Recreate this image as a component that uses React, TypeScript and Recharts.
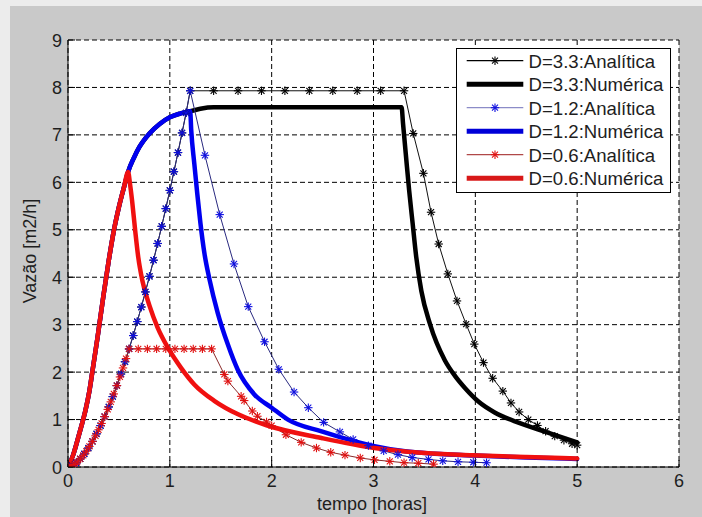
import React from 'react';
import { LineChart, Line, XAxis, YAxis, CartesianGrid, Legend, Label } from 'recharts';

const FONT = '"Liberation Sans", Arial, Helvetica, sans-serif';
const TEXT = '#1e1e1e';

const xTicks = [0, 1, 2, 3, 4, 5, 6];
const yTicks = [0, 1, 2, 3, 4, 5, 6, 7, 8, 9];

const titleText = 'Variação da duração da precipitação (h)';
const xLabelText = 'tempo [horas]';
const yLabelText = 'Vazão [m2/h]';

// analytic rising branch (shared by D=3.3 and D=1.2)
const anaRiseT = [0, 0.04, 0.08, 0.12, 0.16, 0.2, 0.24, 0.28, 0.32, 0.36, 0.4, 0.44, 0.48, 0.52, 0.56, 0.6, 0.64, 0.68, 0.72, 0.76, 0.8, 0.84, 0.88, 0.92, 0.96, 1.0, 1.04, 1.08, 1.12, 1.16, 1.2];
const anaRiseQ = [0, 0.027, 0.087, 0.17, 0.275, 0.399, 0.54, 0.699, 0.873, 1.062, 1.266, 1.484, 1.716, 1.96, 2.218, 2.488, 2.771, 3.065, 3.372, 3.69, 4.019, 4.359, 4.711, 5.073, 5.446, 5.83, 6.224, 6.627, 7.042, 7.466, 7.93];

// D=3.3 analytic (after rising branch)
const d33AnaT = [1.43, 1.67, 1.9, 2.13, 2.37, 2.6, 2.84, 3.07, 3.3, 3.39, 3.49, 3.565, 3.64, 3.73, 3.82, 3.91, 3.99, 4.08, 4.17, 4.27, 4.35, 4.43, 4.52, 4.61, 4.69, 4.78, 4.87, 4.95, 5.0];
const d33AnaQ = [7.93, 7.93, 7.93, 7.93, 7.93, 7.93, 7.93, 7.93, 7.93, 7.03, 6.19, 5.37, 4.7, 4.07, 3.5, 3.01, 2.59, 2.2, 1.87, 1.6, 1.35, 1.16, 1.0, 0.875, 0.755, 0.65, 0.565, 0.49, 0.46];

// D=1.2 analytic (after rising branch)
const d12AnaT = [1.345, 1.49, 1.63, 1.77, 1.93, 2.07, 2.22, 2.36, 2.51, 2.67, 2.8, 2.95, 3.1, 3.24, 3.38, 3.54, 3.68, 3.83, 3.98, 4.11];
const d12AnaQ = [6.57, 5.32, 4.28, 3.38, 2.64, 2.06, 1.58, 1.25, 0.94, 0.74, 0.58, 0.45, 0.34, 0.26, 0.2, 0.16, 0.13, 0.11, 0.1, 0.09];

// D=0.6 analytic
const d06AnaT = [0, 0.03, 0.06, 0.09, 0.12, 0.15, 0.18, 0.21, 0.24, 0.27, 0.3, 0.33, 0.36, 0.39, 0.42, 0.45, 0.48, 0.51, 0.54, 0.57, 0.6, 0.69, 0.78, 0.87, 0.96, 1.05, 1.14, 1.23, 1.32, 1.41, 1.535, 1.57, 1.7, 1.73, 1.81, 1.86, 1.95, 2.0, 2.14, 2.29, 2.44, 2.58, 2.72, 2.87, 3.01, 3.16, 3.3, 3.44, 3.59];
const d06AnaQ = [0, 0.017, 0.054, 0.105, 0.17, 0.247, 0.334, 0.433, 0.54, 0.657, 0.784, 0.918, 1.062, 1.214, 1.373, 1.54, 1.716, 1.898, 2.088, 2.285, 2.49, 2.49, 2.49, 2.49, 2.49, 2.49, 2.49, 2.49, 2.49, 2.49, 1.95, 1.81, 1.49, 1.4, 1.18, 1.07, 0.95, 0.87, 0.68, 0.52, 0.4, 0.31, 0.25, 0.19, 0.15, 0.12, 0.09, 0.08, 0.06];

// numeric rising branch (shared)
const numRiseT = [0, 0.05, 0.09, 0.13, 0.17, 0.21, 0.24, 0.29, 0.35, 0.4, 0.45, 0.5, 0.55, 0.59];
const numRiseQ = [0, 0.25, 0.54, 0.85, 1.18, 1.6, 2.02, 2.73, 3.64, 4.35, 4.98, 5.48, 5.9, 6.22];

// D=1.2 numeric, continuing from the rising branch up to 1.2 h
const d12NumUpT = [0.65, 0.7, 0.8, 0.9, 1.0, 1.1, 1.17, 1.2];
const d12NumUpQ = [6.53, 6.74, 7.03, 7.23, 7.37, 7.45, 7.49, 7.5];
const d12NumDownT = [1.21, 1.24, 1.27, 1.3, 1.34, 1.39, 1.47, 1.57, 1.667, 1.83, 2.0, 2.16, 2.49, 2.82, 3.01, 3.31, 3.6, 4.0, 4.5, 5.0];
const d12NumDownQ = [7.1, 6.4, 5.75, 5.15, 4.5, 3.95, 3.25, 2.58, 2.05, 1.53, 1.25, 1.0, 0.75, 0.54, 0.44, 0.33, 0.28, 0.24, 0.2, 0.17];

// D=3.3 numeric after 1.2 h
const d33NumT = [1.3, 1.43, 3.276, 3.29, 3.32, 3.35, 3.385, 3.42, 3.47, 3.555, 3.7, 3.8, 3.9, 4.03, 4.19, 4.43, 4.69, 5.0];
const d33NumQ = [7.55, 7.58, 7.58, 7.24, 6.53, 5.83, 5.12, 4.42, 3.71, 3.01, 2.25, 1.92, 1.66, 1.38, 1.15, 0.93, 0.74, 0.52];

// D=0.6 numeric after peak
const d06NumT = [0.61, 0.63, 0.66, 0.69, 0.73, 0.8, 0.88, 0.98, 1.11, 1.24, 1.44, 1.67, 1.95, 2.49, 3.01, 3.47, 3.97, 4.5, 5.0];
const d06NumQ = [5.95, 5.6, 4.98, 4.42, 3.93, 3.4, 2.94, 2.52, 2.09, 1.74, 1.39, 1.11, 0.88, 0.61, 0.4, 0.3, 0.25, 0.21, 0.18];

const toRows = (t: number[], q: number[]) => t.map((v, i) => ({ t: v, q: q[i] }));

const dataD33Ana = toRows([...anaRiseT, ...d33AnaT], [...anaRiseQ, ...d33AnaQ]);
const dataD33Num = toRows([...numRiseT, ...d12NumUpT, ...d33NumT], [...numRiseQ, ...d12NumUpQ, ...d33NumQ]);
const dataD12Ana = toRows([...anaRiseT, ...d12AnaT], [...anaRiseQ, ...d12AnaQ]);
const dataD12Num = toRows([...numRiseT, ...d12NumUpT, ...d12NumDownT], [...numRiseQ, ...d12NumUpQ, ...d12NumDownQ]);
const dataD06Ana = toRows(d06AnaT, d06AnaQ);
const dataD06Num = toRows([...numRiseT, ...d06NumT], [...numRiseQ, ...d06NumQ]);

type Series = {
  name: string;
  data: { t: number; q: number }[];
  line: string;
  legendLine: string;
  marker: string | null;
  width: number;
  legendWidth: number;
  curve: 'linear' | 'monotone';
};

const seriesList: Series[] = [
  { name: 'D=3.3:Analítica', data: dataD33Ana, line: '#111111', legendLine: '#000000', marker: '#000000', width: 1, legendWidth: 1.2, curve: 'linear' },
  { name: 'D=3.3:Numérica', data: dataD33Num, line: '#000000', legendLine: '#000000', marker: null, width: 4.5, legendWidth: 5, curve: 'monotone' },
  { name: 'D=1.2:Analítica', data: dataD12Ana, line: '#2a2a80', legendLine: '#8c8cc8', marker: '#1010e0', width: 1, legendWidth: 1.2, curve: 'linear' },
  { name: 'D=1.2:Numérica', data: dataD12Num, line: '#0000f0', legendLine: '#0000d8', marker: null, width: 4.5, legendWidth: 5, curve: 'monotone' },
  { name: 'D=0.6:Analítica', data: dataD06Ana, line: '#8a2a2a', legendLine: '#b04848', marker: '#e01010', width: 1, legendWidth: 1.2, curve: 'linear' },
  { name: 'D=0.6:Numérica', data: dataD06Num, line: '#f01010', legendLine: '#d81818', marker: null, width: 4.5, legendWidth: 5, curve: 'monotone' },
];

const Star = ({ cx, cy, color }: { cx: number; cy: number; color: string }) => {
  const r = 4.2;
  const d = 3;
  return (
    <g stroke={color} strokeWidth={1.1} fill="none">
      <line x1={cx - r} y1={cy} x2={cx + r} y2={cy} />
      <line x1={cx} y1={cy - r} x2={cx} y2={cy + r} />
      <line x1={cx - d} y1={cy - d} x2={cx + d} y2={cy + d} />
      <line x1={cx - d} y1={cy + d} x2={cx + d} y2={cy - d} />
    </g>
  );
};

const makeDot = (color: string) => (props: any) => {
  const { cx, cy, index } = props;
  if (cx == null || cy == null || isNaN(cx) || isNaN(cy)) return <g key={`e${index}`} />;
  return (
    <g key={`d${index}`}>
      <Star cx={cx} cy={cy} color={color} />
    </g>
  );
};

const BottomTick = (props: any) => {
  const { x, y, payload } = props;
  return (
    <g>
      <line x1={x} y1={y} x2={x} y2={y - 7} stroke="#000" strokeWidth={1} />
      <text x={x} y={y + 19.5} textAnchor="middle" fontFamily={FONT} fontSize={18} fill={TEXT}>
        {payload.value}
      </text>
    </g>
  );
};

const TopTick = (props: any) => {
  const { x, y } = props;
  return <line x1={x} y1={y} x2={x} y2={y + 7} stroke="#000" strokeWidth={1} />;
};

const LeftTick = (props: any) => {
  const { x, y, payload } = props;
  return (
    <g>
      <line x1={x} y1={y} x2={x + 7} y2={y} stroke="#000" strokeWidth={1} />
      <text x={x - 6} y={y + 6.5} textAnchor="end" fontFamily={FONT} fontSize={18} fill={TEXT}>
        {payload.value}
      </text>
    </g>
  );
};

const RightTick = (props: any) => {
  const { x, y } = props;
  return <line x1={x} y1={y} x2={x - 7} y2={y} stroke="#000" strokeWidth={1} />;
};

const LegendBox = () => {
  const w = 215;
  const h = 145;
  return (
    <svg width={w} height={h} style={{ display: 'block' }}>
      <rect x={0.5} y={0.5} width={w - 1} height={h - 1} fill="#fff" stroke="#000" strokeWidth={1} />
      {seriesList.map((s, i) => {
        const cy = 12.7 + i * 23.5;
        return (
          <g key={s.name}>
            <line x1={10.7} y1={cy} x2={67.3} y2={cy} stroke={s.legendLine} strokeWidth={s.legendWidth} />
            {s.marker && <Star cx={39} cy={cy} color={s.marker} />}
            <text x={72.5} y={cy + 6.8} fontFamily={FONT} fontSize={18.6} fill={TEXT}>
              {s.name}
            </text>
          </g>
        );
      })}
    </svg>
  );
};

export default function App() {
  return (
    <div style={{ position: 'relative', width: 702, height: 517, background: '#c9c9c9', overflow: 'hidden' }}>
      <style>{'body{margin:0;}'}</style>
      <div style={{ position: 'absolute', left: 0, top: 0, width: 702, height: 6, background: '#ececec' }} />
      <div style={{ position: 'absolute', left: 0, top: 0, width: 10, height: 517, background: '#ececec' }} />
      <div style={{ position: 'absolute', left: 0, top: 0 }}>
        <LineChart width={702} height={517} margin={{ top: 40, right: 23, bottom: 20, left: 8 }}>
          <CartesianGrid stroke="#000" strokeDasharray="5 3" strokeWidth={1} fill="#ffffff" fillOpacity={1} />
          <XAxis
            dataKey="t"
            type="number"
            domain={[0, 6]}
            ticks={xTicks}
            allowDataOverflow
            tickSize={0}
            tickMargin={0}
            height={30}
            axisLine={{ stroke: '#000' }}
            tickLine={false}
            tick={<BottomTick />}
            interval={0}
          >
            <Label
              content={() => (
                <text x={372} y={510} textAnchor="middle" fontFamily={FONT} fontSize={18} fill={TEXT}>
                  {xLabelText}
                </text>
              )}
            />
          </XAxis>
          <XAxis
            xAxisId="top"
            orientation="top"
            dataKey="t"
            type="number"
            domain={[0, 6]}
            ticks={xTicks}
            allowDataOverflow
            tickSize={0}
            tickMargin={0}
            height={0}
            axisLine={{ stroke: '#000' }}
            tickLine={false}
            tick={<TopTick />}
            interval={0}
          >
            <Label
              content={() => (
                <text x={372} y={28} textAnchor="middle" fontFamily={FONT} fontSize={20} fill={TEXT}>
                  {titleText}
                </text>
              )}
            />
          </XAxis>
          <YAxis
            type="number"
            domain={[0, 9]}
            ticks={yTicks}
            allowDataOverflow
            tickSize={0}
            tickMargin={0}
            width={60}
            axisLine={{ stroke: '#000' }}
            tickLine={false}
            tick={<LeftTick />}
            interval={0}
          >
            <Label
              content={() => (
                <text
                  x={0}
                  y={0}
                  transform="translate(35.5,251) rotate(-90)"
                  textAnchor="middle"
                  fontFamily={FONT}
                  fontSize={18}
                  fill={TEXT}
                >
                  {yLabelText}
                </text>
              )}
            />
          </YAxis>
          <YAxis
            yAxisId="right"
            orientation="right"
            type="number"
            domain={[0, 9]}
            ticks={yTicks}
            allowDataOverflow
            tickSize={0}
            tickMargin={0}
            width={0}
            axisLine={{ stroke: '#000' }}
            tickLine={false}
            tick={<RightTick />}
            interval={0}
          />
          {seriesList.map((s) => (
            <Line
              key={s.name}
              name={s.name}
              data={s.data}
              dataKey="q"
              type={s.curve}
              stroke={s.line}
              strokeWidth={s.width}
              strokeLinejoin="round"
              strokeLinecap="round"
              dot={s.marker ? makeDot(s.marker) : false}
              activeDot={false}
              isAnimationActive={false}
              legendType="line"
            />
          ))}
          <Legend
            layout="vertical"
            align="center"
            verticalAlign="middle"
            wrapperStyle={{ left: 456, top: 48, width: 215, height: 145 }}
            content={() => <LegendBox />}
          />
        </LineChart>
      </div>
    </div>
  );
}
